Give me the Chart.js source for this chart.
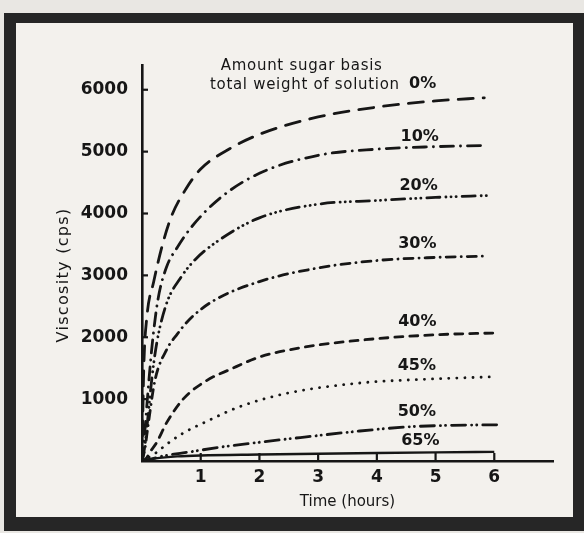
<!DOCTYPE html>
<html>
<head>
<meta charset="utf-8">
<script src="https://cdn.jsdelivr.net/npm/chart.js@4.4.1/dist/chart.umd.min.js"></script>
<style>
  html, body { margin: 0; padding: 0; background: #e9e7e3; }
  canvas { display: block; }
</style>
</head>
<body>
<canvas id="c" width="584" height="533"></canvas>
<script>
// Viscosity of solutions with different sugar contents, measured over time.
const seriesNames = ['0%', '10%', '20%', '30%', '40%', '45%', '50%', '65%'];

const hours0  = [0, 0.03, 0.08, 0.2, 0.35, 0.5, 0.75, 1, 1.5, 2, 3, 4, 5, 5.83];
const visc0   = [0, 1500, 2300, 2900, 3500, 3950, 4400, 4720, 5050, 5280, 5560, 5720, 5820, 5870];

const hours10 = [0, 0.05, 0.1, 0.17, 0.27, 0.42, 0.6, 0.85, 1.33, 2, 3, 4, 5, 5.87];
const visc10  = [0, 500, 1100, 1850, 2600, 3140, 3450, 3790, 4250, 4650, 4940, 5040, 5080, 5100];

const hours20 = [0, 0.05, 0.1, 0.17, 0.25, 0.42, 0.65, 0.9, 1.33, 2, 3, 4, 5, 5.88];
const visc20  = [0, 250, 700, 1350, 1900, 2550, 2950, 3250, 3580, 3930, 4150, 4210, 4260, 4290];

const hours30 = [0, 0.05, 0.1, 0.22, 0.42, 0.6, 0.8, 1.2, 2, 3, 4, 5, 5.8];
const visc30  = [0, 200, 550, 1300, 1800, 2050, 2280, 2580, 2900, 3120, 3240, 3290, 3310];

const hours40 = [0, 0.07, 0.14, 0.25, 0.42, 0.7, 1.1, 1.5, 2, 2.7, 3.8, 5, 6.04];
const visc40  = [0, 40, 150, 300, 620, 1000, 1300, 1480, 1680, 1830, 1960, 2040, 2070];

const hours45 = [0, 0.1, 0.25, 0.42, 0.7, 1.1, 1.67, 2.5, 3.7, 4.8, 5.97];
const visc45  = [0, 50, 140, 270, 450, 640, 880, 1100, 1260, 1320, 1360];

const hours50 = [0, 0.15, 0.35, 0.7, 1.38, 2.06, 2.8, 3.66, 4.5, 5.2, 6.04];
const visc50  = [0, 30, 80, 130, 230, 310, 390, 480, 550, 575, 585];

const hours65 = [0, 0.1, 0.3, 0.6, 1, 2, 3, 4, 5, 6];
const visc65  = [0, 20, 50, 75, 90, 105, 118, 130, 140, 148];

const xTickValues = [1, 2, 3, 4, 5, 6];
const yTickValues = [1000, 2000, 3000, 4000, 5000, 6000];

// where each curve's name is written (hours, cps)
const labelHours = [4.78, 4.73, 4.71, 4.69, 4.69, 4.68, 4.68, 4.74];
const labelVisc  = [6100, 5243, 4450, 3511, 2249, 1537, 793, 324];

const INK = '#161616';
const FONT = '"DejaVu Sans", sans-serif';

function pts(h, v) { return h.map((x, i) => ({ x: x, y: v[i] })); }

const styles = [
  { dash: [15, 10] },
  { dash: [13, 7, 0.1, 7] },
  { dash: [13, 6, 0.1, 5, 0.1, 5, 0.1, 6] },
  { dash: [9, 6, 0.1, 6] },
  { dash: [8, 7] },
  { dash: [0.1, 8] },
  { dash: [14, 6, 0.1, 5, 0.1, 6] },
  { dash: [] }
];

const seriesData = [
  pts(hours0, visc0), pts(hours10, visc10), pts(hours20, visc20), pts(hours30, visc30),
  pts(hours40, visc40), pts(hours45, visc45), pts(hours50, visc50), pts(hours65, visc65)
];

const datasets = seriesData.map((d, i) => ({
  label: seriesNames[i],
  data: d,
  borderColor: INK,
  borderWidth: i === 7 ? 2.4 : 2.8,
  borderDash: styles[i].dash,
  borderCapStyle: i === 7 ? 'butt' : 'round',
  pointRadius: 0,
  cubicInterpolationMode: 'monotone',
  fill: false
}));

// paper and the dark mount around the figure
const paper = {
  id: 'paper',
  beforeDraw(chart) {
    const ctx = chart.ctx;
    ctx.save();
    ctx.fillStyle = '#e9e7e3';
    ctx.fillRect(0, 0, 584, 533);
    ctx.fillStyle = '#f3f1ed';
    ctx.fillRect(16, 23, 558, 494);
    ctx.fillStyle = '#262626';
    ctx.fillRect(4, 13, 580, 10);   // top
    ctx.fillRect(4, 13, 12, 518);   // left
    ctx.fillRect(573, 13, 11, 518); // right
    ctx.fillRect(4, 517, 580, 14);  // bottom
    ctx.restore();
  }
};

// inward tick marks, curve names and axis captions
const annotate = {
  id: 'annotate',
  afterDraw(chart) {
    const ctx = chart.ctx;
    const xs = chart.scales.x, ys = chart.scales.y;
    const ca = chart.chartArea;
    ctx.save();
    ctx.strokeStyle = INK;
    ctx.lineWidth = 2.2;
    yTickValues.forEach(v => {
      const y = ys.getPixelForValue(v);
      ctx.beginPath(); ctx.moveTo(ca.left, y); ctx.lineTo(ca.left + 6, y); ctx.stroke();
    });
    xTickValues.forEach(v => {
      const x = xs.getPixelForValue(v);
      ctx.beginPath(); ctx.moveTo(x, ca.bottom); ctx.lineTo(x, ca.bottom - 8); ctx.stroke();
    });

    ctx.fillStyle = INK;
    ctx.textBaseline = 'middle';

    ctx.font = 'bold 16px ' + FONT;
    ctx.textAlign = 'center';
    seriesNames.forEach((n, i) => {
      ctx.fillText(n, xs.getPixelForValue(labelHours[i]), ys.getPixelForValue(labelVisc[i]));
    });

    ctx.font = '15px ' + FONT;
    ctx.letterSpacing = '0.7px';
    ctx.textAlign = 'center';
    ctx.fillText('Amount sugar basis', xs.getPixelForValue(2.72), ys.getPixelForValue(6390));
    ctx.textAlign = 'right';
    ctx.fillText('total weight of solution', xs.getPixelForValue(4.39), ys.getPixelForValue(6068));

    ctx.letterSpacing = '0px';
    ctx.textAlign = 'center';
    ctx.fillText('Time (hours)', (ca.left + ca.right) / 2, ca.bottom + 41);

    ctx.font = '16px ' + FONT;
    ctx.letterSpacing = '1.3px';
    ctx.translate(64, 275);
    ctx.rotate(-Math.PI / 2);
    ctx.fillText('Viscosity (cps)', 0, 0);
    ctx.restore();
  }
};

new Chart(document.getElementById('c'), {
  type: 'line',
  data: { datasets },
  options: {
    responsive: false,
    animation: false,
    devicePixelRatio: 1,
    layout: { padding: { top: 65, right: 31, left: 0, bottom: 0 } },
    plugins: { legend: { display: false }, tooltip: { enabled: false }, title: { display: false } },
    scales: {
      x: {
        type: 'linear', min: 0, max: 7,
        afterBuildTicks(scale) { scale.ticks = xTickValues.map(v => ({ value: v })); },
        afterFit(scale) { scale.height = 72; },
        grid: { display: false, drawTicks: false, tickLength: 0 },
        border: { display: true, color: INK, width: 2.6 },
        ticks: { color: INK, padding: 6, font: { family: FONT, size: 17, weight: 'bold' }, maxRotation: 0,
                 callback: v => String(v) }
      },
      y: {
        type: 'linear', min: 0, max: 6400,
        afterBuildTicks(scale) { scale.ticks = yTickValues.map(v => ({ value: v })); },
        afterFit(scale) { scale.width = 142; },
        grid: { display: false, drawTicks: false, tickLength: 0 },
        border: { display: true, color: INK, width: 2.6 },
        ticks: { color: INK, padding: 14, font: { family: FONT, size: 17, weight: 'bold' },
                 callback: v => String(v) }
      }
    }
  },
  plugins: [paper, annotate]
});
</script>
</body>
</html>
